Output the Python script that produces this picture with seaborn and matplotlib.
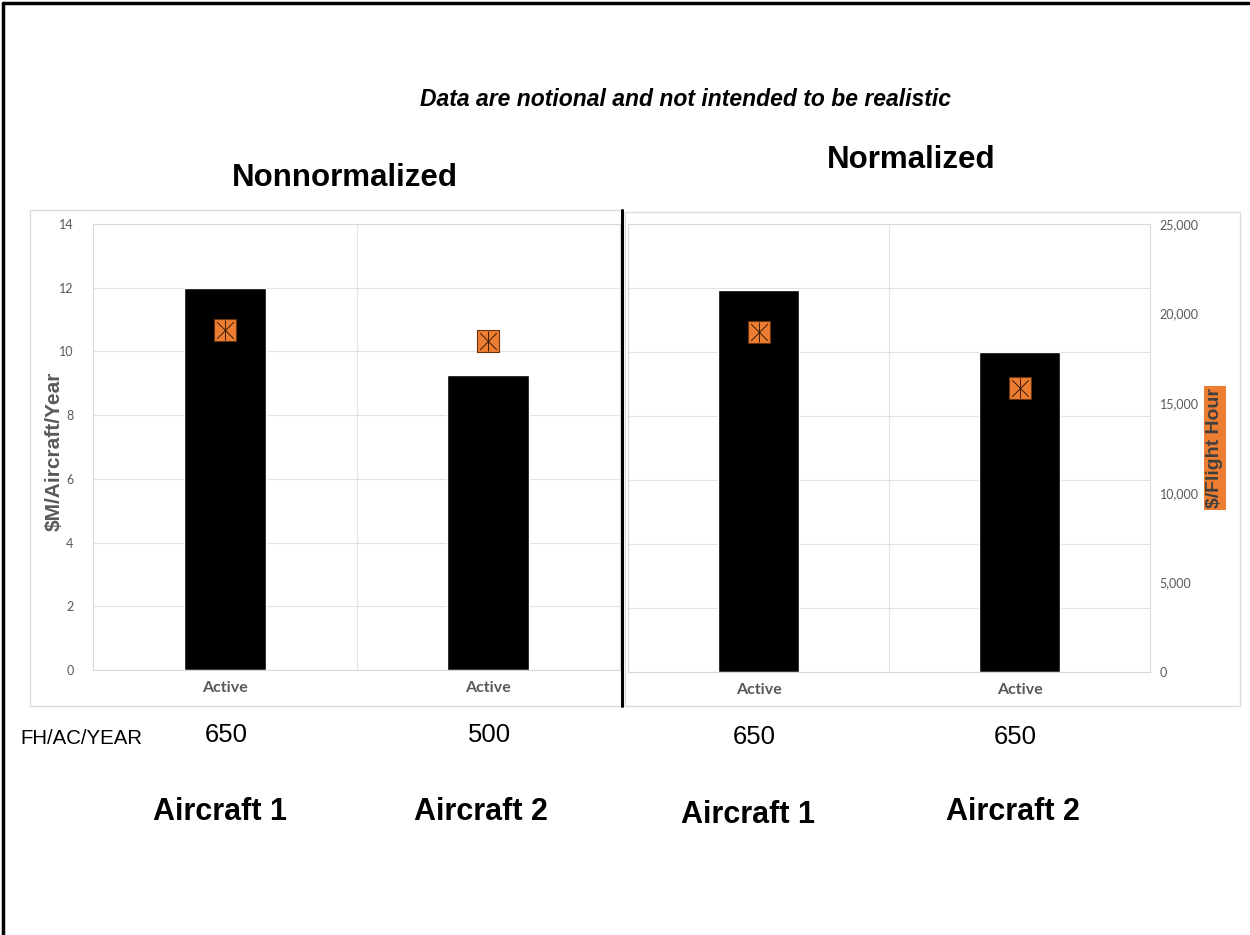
import matplotlib
matplotlib.use("Agg")
import matplotlib.pyplot as plt
import seaborn as sns
from matplotlib.patches import Rectangle
from matplotlib.lines import Line2D

# data
aircraft = ["Aircraft 1", "Aircraft 2"]
fh_nonnorm = ["650", "500"]
fh_norm = ["650", "650"]
cost_m = [12.0, 9.25]           # $M/Aircraft/Year, bars (left)
cost_m_marker = [10.67, 10.33]  # markers (left)
norm_bar = [11.95, 10.0]        # bars (right, primary hidden axis)
norm_marker = [19000, 15850]    # $/Flight Hour markers (right)
left_ticks = list(range(0, 15, 2))
right_ticks = [0, 5000, 10000, 15000, 20000, 25000]

sns.set_style("white")
plt.rcParams["font.family"] = ["Liberation Sans", "DejaVu Sans"]
plt.rcParams["text.color"] = "black"

ORANGE = "#ED7D31"
GRID = "#e3e3e3"
TICKC = "#595959"
W, H = 1250, 935

fig = plt.figure(figsize=(12.5, 9.35), dpi=100)


def fx(px):
    return px / W


def fy(py):
    return 1 - py / H


def draw_markers(ax, vals):
    sns.scatterplot(x=aircraft, y=vals, marker="s", s=250, color=ORANGE,
                    edgecolor="#6b3410", linewidth=0.8, ax=ax, zorder=4, legend=False)
    ax.scatter(aircraft, vals, marker="x", s=145, color="#3a1a05", linewidths=0.7, zorder=5)
    ax.scatter(aircraft, vals, marker="|", s=190, color="#3a1a05", linewidths=0.7, zorder=5)


def style_axes(ax):
    ax.set_ylim(0, 14)
    ax.set_yticks(left_ticks)
    ax.yaxis.grid(True, color=GRID, lw=0.8)
    ax.set_axisbelow(True)
    ax.axvline(0.5, color=GRID, lw=0.8, zorder=0)
    for s in ax.spines.values():
        s.set_color("#d9d9d9")
        s.set_linewidth(0.8)
    ax.set_xticks([0, 1])
    ax.set_xticklabels(["Active", "Active"], fontweight="bold", color=TICKC,
                       fontsize=11.5, family=["Lato", "DejaVu Sans"])
    ax.tick_params(axis="x", length=0, pad=8)
    ax.set_xlim(-0.5, 1.5)
    ax.set_xlabel("")


# left panel
axL = fig.add_axes([fx(93), fy(670), fx(527), 446 / H])
sns.barplot(x=aircraft, y=cost_m, color="black", saturation=1, width=0.31, ax=axL, zorder=2)
draw_markers(axL, cost_m_marker)
style_axes(axL)
axL.set_yticklabels([str(t) for t in left_ticks], color=TICKC, fontsize=9,
                    family=["Lato", "DejaVu Sans"])
axL.tick_params(axis="y", length=0, pad=14)
axL.set_ylabel("$M/Aircraft/Year", fontsize=15, fontweight="bold", color=TICKC)
axL.yaxis.set_label_coords(-0.056, 0.49)

# right panel
axR = fig.add_axes([fx(628), fy(672), fx(522), 448 / H])
sns.barplot(x=aircraft, y=norm_bar, color="black", saturation=1, width=0.31, ax=axR, zorder=2)
style_axes(axR)
axR.set_yticklabels([])
axR.tick_params(axis="y", length=0)
axR.set_ylabel("")
axR2 = axR.twinx()
draw_markers(axR2, norm_marker)
axR2.set_ylim(0, 25000)
axR2.set_yticks(right_ticks)
axR2.set_yticklabels([f"{t:,}" for t in right_ticks], color=TICKC, fontsize=9,
                     family=["Lato", "DejaVu Sans"])
axR2.tick_params(axis="y", length=0, pad=7)
axR2.grid(False)
for s in axR2.spines.values():
    s.set_visible(False)
axR2.set_ylabel("$/Flight Hour", fontsize=14, fontweight="bold", color="#404040",
                bbox=dict(facecolor=ORANGE, edgecolor="none", pad=1.5))
axR2.yaxis.set_label_coords(1.108, 0.5)
axR.set_xlim(-0.5, 1.5)

# chart frames, divider and page border
fig.add_artist(Rectangle((fx(30), fy(706)), fx(592), 496 / H, transform=fig.transFigure,
                         fill=False, edgecolor="#dcdcdc", lw=1))
fig.add_artist(Rectangle((fx(625), fy(706)), fx(615), 494 / H, transform=fig.transFigure,
                         fill=False, edgecolor="#dcdcdc", lw=1))
fig.add_artist(Line2D([fx(622), fx(622)], [fy(210), fy(706)], color="black", lw=2.2))
fig.add_artist(Line2D([fx(3), 1], [fy(3), fy(3)], color="black", lw=2.5))
fig.add_artist(Line2D([fx(3), fx(3)], [fy(3), 0], color="black", lw=2.5))

# texts
fig.text(fx(686), fy(100), "Data are notional and not intended to be realistic",
         ha="center", va="center", fontsize=16.5, fontweight="bold", style="italic")
fig.text(fx(345), fy(178), "Nonnormalized", ha="center", va="center", fontsize=22.5, fontweight="bold")
fig.text(fx(911), fy(160), "Normalized", ha="center", va="center", fontsize=22.5, fontweight="bold")
fig.text(fx(20), fy(738), "FH/AC/YEAR", ha="left", va="center", fontsize=14.7)
for xc, v in zip([226, 489], fh_nonnorm):
    fig.text(fx(xc), fy(735), v, ha="center", va="center", fontsize=18.5)
for xc, v in zip([754, 1015], fh_norm):
    fig.text(fx(xc), fy(737), v, ha="center", va="center", fontsize=18.5)
for xc, yc, name in zip([220, 481, 748, 1013], [812, 812, 815, 812], aircraft + aircraft):
    fig.text(fx(xc), fy(yc), name, ha="center", va="center", fontsize=22, fontweight="bold")

fig.savefig("out.png", dpi=100)
